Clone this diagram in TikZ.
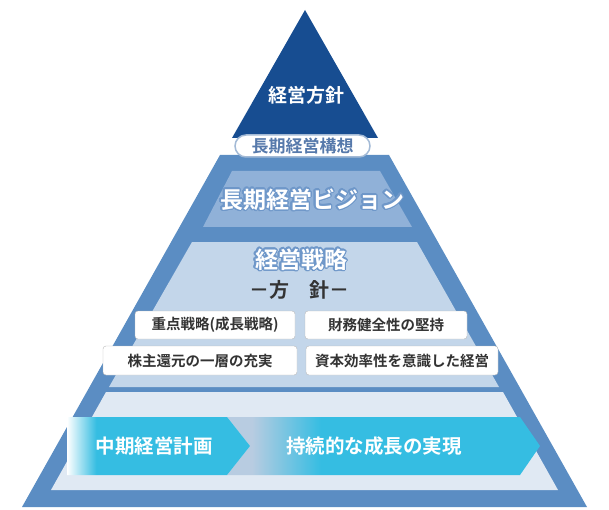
\documentclass[tikz,border=0pt]{standalone}
\usepackage{fontspec}
\setmainfont{Noto Sans CJK JP}[BoldFont={* Bold}]
\usepackage[copies]{contour}
\contourlength{1.3pt}
\contournumber{20}
\usetikzlibrary{positioning}
\definecolor{navy}{HTML}{174D91}
\definecolor{midblue}{HTML}{5B8DC3}
\definecolor{visionblue}{HTML}{90B1D8}
\definecolor{strategyblue}{HTML}{C3D6EA}
\definecolor{planpale}{HTML}{E0E9F3}
\definecolor{cyanbar}{HTML}{35BDE2}
\definecolor{fadegray}{HTML}{B8CCE1}
\definecolor{pillline}{HTML}{A3BAD6}
\definecolor{pilltext}{HTML}{5679AB}
\definecolor{glow}{HTML}{6E97C9}
\definecolor{ink}{HTML}{333333}
\pgfdeclarehorizontalshading{firstfade}{100bp}{color(0bp)=(white); color(25bp)=(white); color(33bp)=(cyanbar); color(100bp)=(cyanbar)}
\pgfdeclarehorizontalshading{nextfade}{100bp}{color(0bp)=(fadegray); color(29bp)=(fadegray); color(40bp)=(cyanbar); color(100bp)=(cyanbar)}

\begin{document}
\begin{tikzpicture}[x=1pt,y=-1pt,
  title/.style={font=\bfseries\fontsize{23}{23}\selectfont,text=white},
  policy/.style={draw=gray!55,fill=white,rounded corners=3pt,minimum height=28pt,
    inner sep=0pt,font=\bfseries\fontsize{14.5}{15}\selectfont,text=ink},
  bar/.style={font=\bfseries\fontsize{19.5}{20}\selectfont,text=white}]
\useasboundingbox (0,0) rectangle (609,510);
% pyramid layers
\fill[navy] (305,10) -- (378,138) -- (232,138) -- cycle;
\fill[midblue] (220,155) -- (389,155) -- (587,507) -- (22,507) -- cycle;
\fill[visionblue] (232,171) -- (380,171) -- (412,227) -- (203,227) -- cycle;
\fill[strategyblue] (192,242) -- (417,242) -- (499,387) -- (109,387) -- cycle;
\fill[planpale] (106,392) -- (503,392) -- (558,490) -- (51,490) -- cycle;
% arrows
\shade[shading=nextfade] (227,417) -- (520,417) -- (540,446) -- (520,475)
  -- (227,475) -- (250,446) -- cycle;
\shade[shading=firstfade] (67,417) -- (227,417) -- (250,446) -- (227,475)
  -- (67,475) -- cycle;
% texts
\node[font=\bfseries\fontsize{19}{19}\selectfont,text=white] (mgmt) at (306,95) {経営方針};
\node[draw=pillline,line width=1.5pt,fill=white,rounded corners=11pt,minimum width=135pt,
  minimum height=22pt,inner sep=0pt,text=pilltext,font=\bfseries\fontsize{17}{17}\selectfont]
  (concept) at (302.5,146) {長期経営構想};
\node[title] (vision) at (312,200) {\contour{glow}{長期経営ビジョン}};
\node[title] (strategy) at (301,260) {\contour{glow}{経営戦略}};
\node[font=\bfseries\fontsize{20}{20}\selectfont,text=ink] (hoshin) at (299,290) {－方　針－};
\node[policy,minimum width=160pt] (growthplan) at (215,325) {重点戦略(成長戦略)};
\node[policy,minimum width=162pt] (finance) at (386,325) {財務健全性の堅持};
\node[policy,minimum width=194pt,minimum height=29pt] (returns) at (200,360.5) {株主還元の一層の充実};
\node[policy,minimum width=192pt,minimum height=29pt] (capital) at (402,360.5) {資本効率性を意識した経営};
\node[bar] (midplan) at (154,446) {中期経営計画};
\node[bar] (growth) at (374,446) {持続的な成長の実現};
\end{tikzpicture}
\end{document}
